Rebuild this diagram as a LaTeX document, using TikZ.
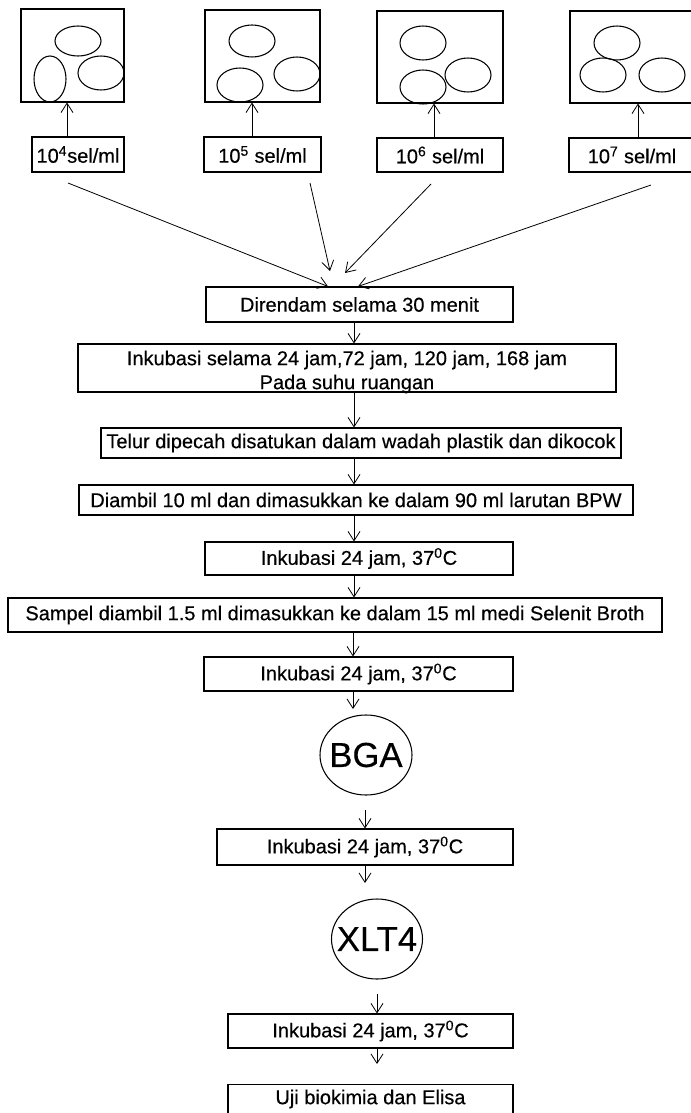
\documentclass[tikz,border=0pt]{standalone}
\usepackage{fontspec}
\setmainfont{Liberation Sans}[FakeBold=0.4,AutoFakeBold=0.4]
\usetikzlibrary{arrows.meta,shapes.geometric}
\begin{document}
\begin{tikzpicture}[x=0.75pt,y=-0.75pt,
  every node/.style={inner sep=0pt, font=\fontsize{15}{18}\selectfont\bfseries},
  bx/.style={draw, line width=0.8pt, rectangle, align=center},
  sz/.style 2 args={minimum width=#1*0.75pt, minimum height=#2*0.75pt},
  egg/.style={line width=0.8pt},
  con/.style={-{Straight Barb[length=7pt,width=9pt]}, line width=0.6pt},
  dish/.style={draw, line width=0.8pt, ellipse, font=\fontsize{26}{30}\selectfont}
]
\useasboundingbox (0,0) rectangle (691,1113);
\clip (0,0) rectangle (691,1113);

% plates
\node[bx, sz={103}{93}] (P1) at (72.5,55.5) {};
\node[bx, sz={115}{92}] (P2) at (262.5,56) {};
\node[bx, sz={126}{92}] (P3) at (440,57) {};
\node[bx, sz={130}{92}] (P4) at (635,57) {};

% eggs
\draw[egg] (78,41) ellipse [x radius=23, y radius=15];
\draw[egg] (50,79) ellipse [x radius=16, y radius=23];
\draw[egg] (101,73) ellipse [x radius=23, y radius=17];
\draw[egg] (252,41) ellipse [x radius=23, y radius=16];
\draw[egg] (240,85) ellipse [x radius=23, y radius=17];
\draw[egg] (297,74) ellipse [x radius=23, y radius=17];
\draw[egg] (423,43) ellipse [x radius=23, y radius=17];
\draw[egg] (423,87) ellipse [x radius=23, y radius=17];
\draw[egg] (468,75) ellipse [x radius=23, y radius=17];
\draw[egg] (617,43) ellipse [x radius=23, y radius=17];
\draw[egg] (603,75) ellipse [x radius=23, y radius=17];
\draw[egg] (662,75) ellipse [x radius=23, y radius=17];

% labels
\node[bx, sz={92}{35}] (L1) at (78,154.5) {10\textsuperscript{4}sel/ml};
\node[bx, sz={117}{35}] (L2) at (262.5,154.5) {10\textsuperscript{5} sel/ml};
\node[bx, sz={126}{34}] (L3) at (440,155) {10\textsuperscript{6} sel/ml};
\node[bx, sz={126}{34}] (L4) at (632,155) {10\textsuperscript{7} sel/ml};

\coordinate (a1) at (67,0);
\coordinate (a2) at (252,0);
\coordinate (a3) at (434,0);
\coordinate (a4) at (638,0);
\draw[con] (a1 |- L1.north) -- (a1 |- P1.south);
\draw[con] (a2 |- L2.north) -- (a2 |- P2.south);
\draw[con] (a3 |- L3.north) -- (a3 |- P3.south);
\draw[con] (a4 |- L4.north) -- (a4 |- P4.south);

% main column
\node[bx, sz={307}{35}] (dir) at (359.5,304.5) {Direndam selama 30 menit};
\node[bx, sz={538}{48}] (ink1) at (347,368) {};
\node[align=center] (ink1t) at (347,372) {Inkubasi selama 24 jam,72 jam, 120 jam, 168 jam\\Pada suhu ruangan};
\node[bx, sz={520}{30}] (telur) at (361,443) {Telur dipecah disatukan dalam wadah plastik dan dikocok};
\node[bx, sz={554}{30}] (ambil) at (356,500) {Diambil 10 ml dan dimasukkan ke dalam 90 ml larutan BPW};
\node[bx, sz={308}{33}] (inkA) at (359,558.5) {Inkubasi 24 jam, 37\textsuperscript{0}C};
\node[bx, sz={654}{34}] (sampel) at (335,615) {Sampel diambil 1.5 ml dimasukkan ke dalam 15 ml medi Selenit Broth};
\node[bx, sz={309}{34}] (inkB) at (358.5,674) {Inkubasi 24 jam, 37\textsuperscript{0}C};
\node[dish, sz={92}{80}] (bga) at (366,755) {\makebox[0pt]{BGA}};
\node[bx, sz={296}{36}] (inkC) at (365,847) {Inkubasi 24 jam, 37\textsuperscript{0}C};
\node[dish, sz={91}{80}] (xlt) at (377,939) {\makebox[0pt]{XLT4}};
\node[bx, sz={285}{34}] (inkD) at (370.5,1031) {Inkubasi 24 jam, 37\textsuperscript{0}C};
\node[bx, sz={285}{41}, anchor=north] (uji) at (370.5,1084) {};
\node (ujit) at (370.5,1099) {Uji biokimia dan Elisa};

% converging lines
\coordinate (s1) at (68,183);
\coordinate (s2) at (310,183);
\coordinate (s3) at (431,184);
\coordinate (s4) at (651,185);
\coordinate (e1) at (328,0);
\coordinate (e2) at (330,271);
\coordinate (e3) at (345,273);
\coordinate (e4) at (358,0);
\draw[con] (s1) -- (e1 |- dir.north);
\draw[con] (s2) -- (e2);
\draw[con] (s3) -- (e3);
\draw[con] (s4) -- (e4 |- dir.north);

% vertical flow
\coordinate (c) at (354,0);
\coordinate (cb) at (353,0);
\draw[con] (c |- dir.south) -- (c |- ink1.north);
\draw[con] (c |- ink1.south) -- (c |- telur.north);
\draw[con] (c |- telur.south) -- (c |- ambil.north);
\draw[con] (c |- ambil.south) -- (c |- inkA.north);
\draw[con] (c |- inkA.south) -- (c |- sampel.north);
\draw[con] (cb |- sampel.south) -- (cb |- inkB.north);
\coordinate (t1) at (353,709);
\draw[con] (cb |- inkB.south) -- (t1);
\coordinate (f1) at (365,810);
\draw[con] (f1) -- (f1 |- inkC.north);
\coordinate (t2) at (365,883);
\draw[con] (t2 |- inkC.south) -- (t2);
\coordinate (f2) at (377,994);
\draw[con] (f2) -- (f2 |- inkD.north);
\coordinate (t3) at (377,1064);
\draw[con] (t3 |- inkD.south) -- (t3);
\end{tikzpicture}
\end{document}
